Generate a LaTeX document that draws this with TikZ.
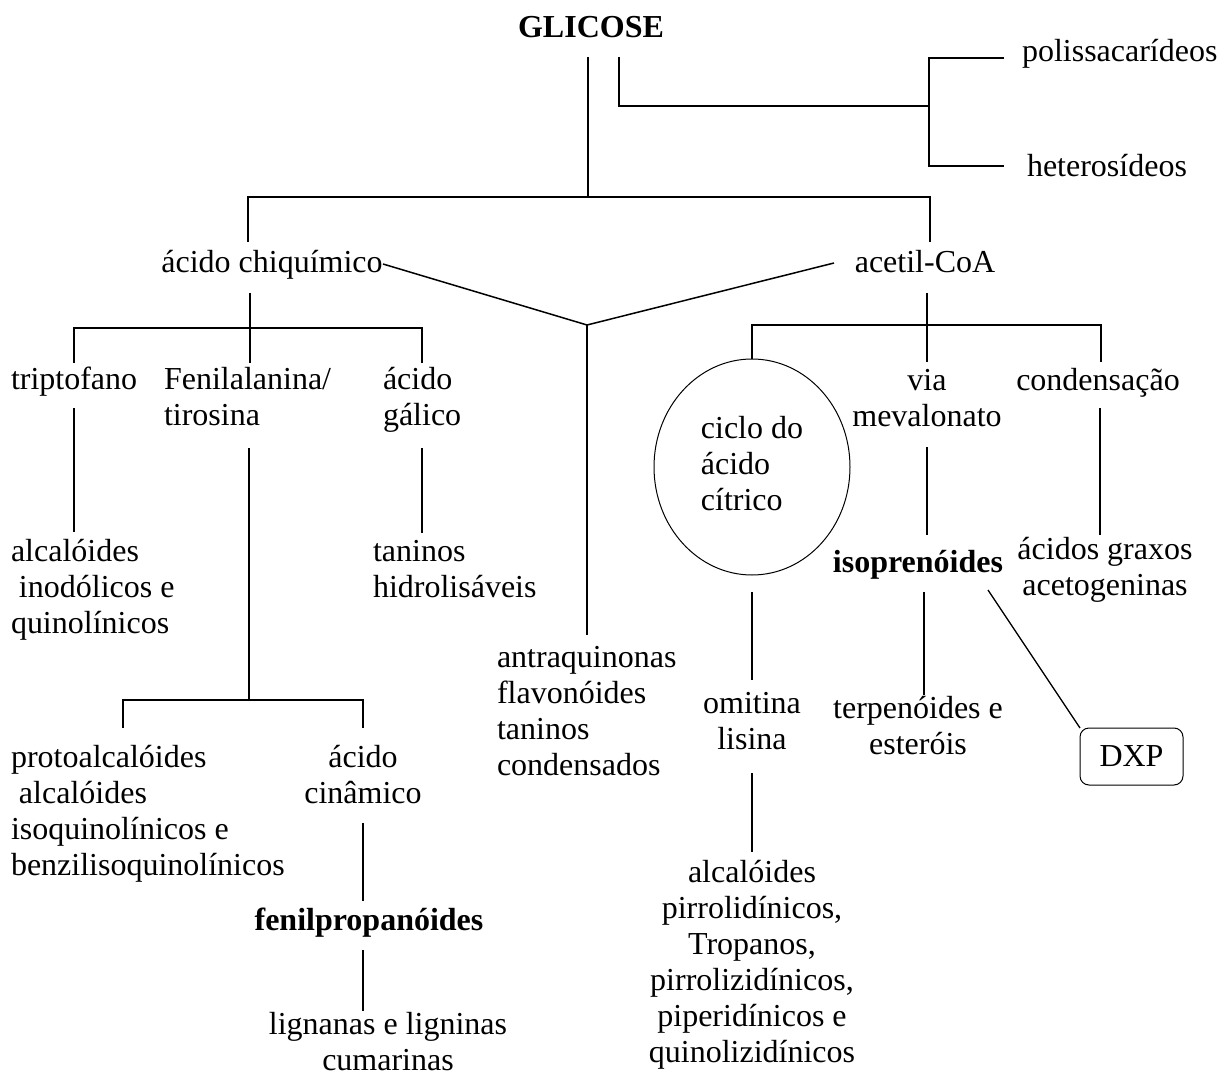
\documentclass[tikz,border=0pt]{standalone}
\usepackage{fontspec}
\setmainfont{Liberation Serif}
\usetikzlibrary{shapes.geometric}
\newcommand{\NL}{\\\strut}
\begin{document}
\begin{tikzpicture}[x=1pt,y=-1pt,
  every node/.style={inner sep=0pt, outer sep=0pt, font=\fontsize{32}{36}\selectfont},
  conn/.style={line width=1.5pt, line join=miter},
  tl/.style={anchor=north west, align=left},
  tc/.style={anchor=north, align=center},
  sl/.style={anchor=base west},
  sc/.style={anchor=base},
  bf/.style={font=\fontsize{32}{36}\selectfont\bfseries}]
\useasboundingbox (0,0) rectangle (1224,1075);

% ---------- text nodes ----------
\node[sc,bf] (glic) at (591,38) {GLICOSE};
\node[sl] (poly) at (1022,62) {polissacarídeos};
\node[sl] (het) at (1027,177) {heterosídeos};
\node[sc] (chiq) at (272,273) {ácido chiquímico};
\node[sc] (acet) at (925,273) {acetil-CoA};
\node[sl] (trip) at (11,389) {triptofano};
\node[tl] (fen) at (164,363.8) {\strut Fenilalanina/\NL tirosina};
\node[tl] (gal) at (383,363.8) {\strut ácido\NL gálico};
\node[tl] (alci) at (11,535.8) {\strut alcalóides\NL~inodólicos e\NL quinolínicos};
\node[tl] (tan) at (373,535.8) {\strut taninos\NL hidrolisáveis};
\node[tl] (antra) at (497,641.8) {\strut antraquinonas\NL flavonóides\NL taninos\NL condensados};
\node[tl] (proto) at (11,741.8) {\strut protoalcalóides\NL~alcalóides\NL isoquinolínicos e\NL benzilisoquinolínicos};
\node[tc] (cin) at (363,741.8) {\strut ácido\NL cinâmico};
\node[sc,bf] (fenp) at (369,930) {fenilpropanóides};
\node[tc] (lig) at (388,1008.8) {\strut lignanas e ligninas\NL cumarinas};

\node[draw, ellipse, line width=1pt, minimum width=196pt, minimum height=216pt, align=left]
  (ciclo) at (752,467) {\strut ciclo do\NL ácido\NL cítrico};
\node[tc] (via) at (927,364.8) {\strut via\NL mevalonato};
\node[sc] (cond) at (1098,390) {condensação};
\node[sc,bf] (isop) at (918,572) {isoprenóides};
\node[tc] (acid) at (1105,533.8) {\strut ácidos graxos\NL acetogeninas};
\node[tc] (orn) at (752,687.8) {\strut omitina\NL lisina};
\node[tc] (terp) at (918,692.8) {\strut terpenóides e\NL esteróis};
\node[draw, line width=1pt, rounded corners=9pt, minimum width=103pt, minimum height=57pt]
  (dxp) at (1131.5,756.5) {DXP};
\node[tc] (alcb) at (752,856.8) {\strut alcalóides\NL pirrolidínicos,\NL Tropanos,\NL pirrolizidínicos,\NL piperidínicos e\NL quinolizidínicos};

% ---------- connector end points ----------
\coordinate (g1) at (588,57);   \coordinate (g2) at (588,197);
\coordinate (h1) at (619,57);   \coordinate (h2) at (619,106);  \coordinate (h3) at (929,106);
\coordinate (p1) at (1004,58);  \coordinate (p2) at (929,58);   \coordinate (p3) at (929,166); \coordinate (p4) at (1004,166);
\coordinate (b1) at (248,242);  \coordinate (b2) at (248,197);  \coordinate (b3) at (930,197); \coordinate (b4) at (930,242);
\coordinate (v1) at (383,264);  \coordinate (v2) at (587,325);  \coordinate (v3) at (834,263); \coordinate (v4) at (587,635);
\coordinate (s1) at (250,293);  \coordinate (s2) at (250,363);
\coordinate (t1) at (74,363);   \coordinate (t2) at (74,328);   \coordinate (t3) at (422,328); \coordinate (t4) at (422,363);
\coordinate (tr1) at (74,408);  \coordinate (tr2) at (74,532);
\coordinate (fe1) at (249,448); \coordinate (fe2) at (249,700);
\coordinate (ga1) at (422,448); \coordinate (ga2) at (422,533);
\coordinate (f1) at (123,728);  \coordinate (f2) at (123,700);  \coordinate (f3) at (363,700); \coordinate (f4) at (363,728);
\coordinate (ci1) at (363,823); \coordinate (ci2) at (363,901);
\coordinate (fp1) at (363,950); \coordinate (fp2) at (363,1011);
\coordinate (a1) at (927,293);  \coordinate (a2) at (927,362);
\coordinate (r1) at (752,325);  \coordinate (r2) at (1101,325); \coordinate (r3) at (1101,362);
\coordinate (m1) at (927,447);  \coordinate (m2) at (927,535);
\coordinate (c1) at (1100,408); \coordinate (c2) at (1100,535);
\coordinate (e1) at (752,592);  \coordinate (e2) at (752,680);
\coordinate (o1) at (752,773);  \coordinate (o2) at (752,852);
\coordinate (i1) at (924,592);  \coordinate (i2) at (924,695);
\coordinate (d1) at (988,590);

% ---------- connectors ----------
\draw[conn] (g1) -- (g2);
\draw[conn] (h1) -- (h2) -- (h3);
\draw[conn] (p1) -- (p2) -- (p3) -- (p4);
\draw[conn] (b1) -- (b2) -- (b3) -- (b4);
\draw[conn] (v1) -- (v2) -- (v3);
\draw[conn] (v2) -- (v4);
\draw[conn] (s1) -- (s2);
\draw[conn] (t1) -- (t2) -- (t3) -- (t4);
\draw[conn] (tr1) -- (tr2);
\draw[conn] (fe1) -- (fe2);
\draw[conn] (ga1) -- (ga2);
\draw[conn] (f1) -- (f2) -- (f3) -- (f4);
\draw[conn] (ci1) -- (ci2);
\draw[conn] (fp1) -- (fp2);
\draw[conn] (a1) -- (a2);
\draw[conn] (ciclo.north) -- (r1) -- (r2) -- (r3);
\draw[conn] (m1) -- (m2);
\draw[conn] (c1) -- (c2);
\draw[conn] (e1) -- (e2);
\draw[conn] (o1) -- (o2);
\draw[conn] (i1) -- (i2);
\draw[line width=1.3pt] (d1) -- (dxp.north west);
\end{tikzpicture}
\end{document}
